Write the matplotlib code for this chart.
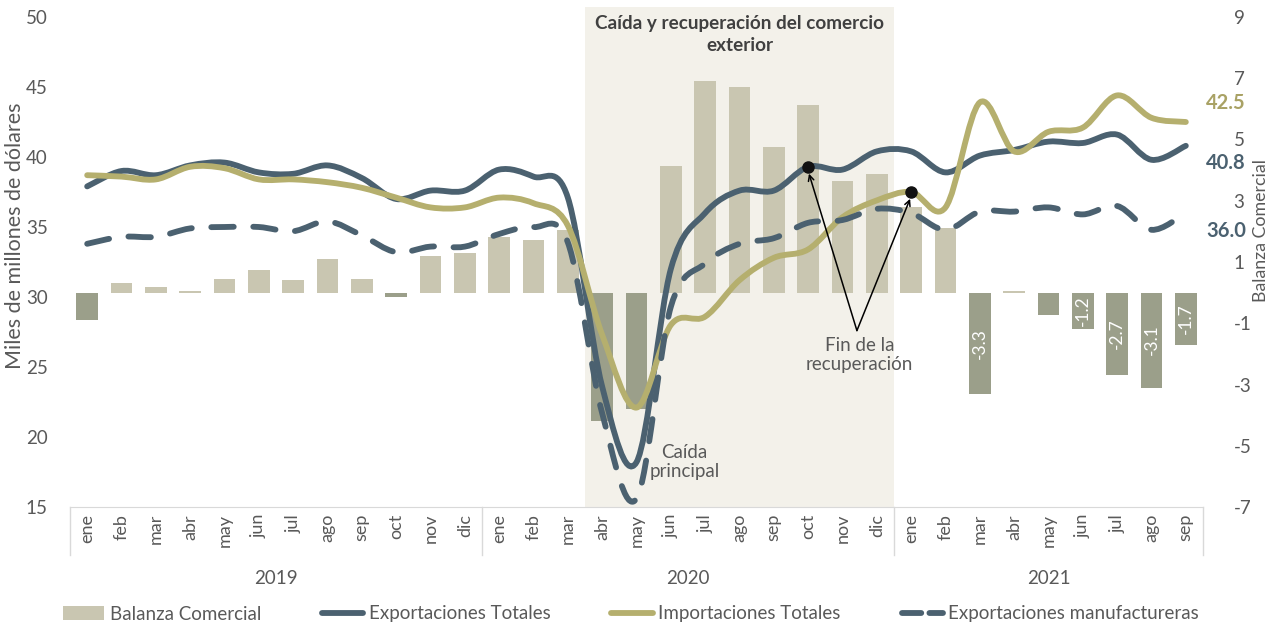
import numpy as np
import matplotlib
matplotlib.use("Agg")
import matplotlib.pyplot as plt
from matplotlib.path import Path
from matplotlib.patches import PathPatch, Rectangle, Patch
from matplotlib.lines import Line2D
import matplotlib.transforms as mtransforms

plt.rcParams['font.family'] = ['Lato', 'DejaVu Sans']
plt.rcParams['axes.unicode_minus'] = False

# ---------------------------------------------------------------- datos
meses = ['ene', 'feb', 'mar', 'abr', 'may', 'jun', 'jul', 'ago', 'sep', 'oct', 'nov', 'dic']
etiquetas_mes = meses + meses + meses[:9]
anios = ['2019', '2020', '2021']

# balanza comercial (eje derecho)
balanza = [-0.9, 0.33, 0.2, 0.05, 0.45, 0.75, 0.4, 1.1, 0.45, -0.15, 1.2, 1.3,
           1.83, 1.73, 2.05, -4.2, -3.8, 4.15, 6.9, 6.7, 4.77, 6.14, 3.63, 3.86,
           2.81, 2.1, -3.3, 0.05, -0.72, -1.2, -2.7, -3.1, -1.7]
# miles de millones de dólares (eje izquierdo)
expo_total = [37.9, 39.0, 38.7, 39.4, 39.6, 38.9, 38.8, 39.4, 38.5, 37.0, 37.6, 37.6,
              39.1, 38.6, 37.1, 23.6, 18.2, 32.0, 36.0, 37.6, 37.6, 39.3, 39.1, 40.4,
              40.4, 38.9, 40.1, 40.5, 41.1, 41.0, 41.6, 39.8, 40.8]
impo_total = [38.7, 38.6, 38.4, 39.3, 39.2, 38.4, 38.4, 38.2, 37.8, 37.1, 36.4, 36.4,
              37.1, 36.7, 35.1, 27.3, 22.1, 28.0, 28.6, 31.2, 32.8, 33.4, 35.7, 36.9,
              37.5, 36.4, 43.9, 40.4, 41.8, 42.1, 44.4, 42.8, 42.5]
expo_manuf = [33.8, 34.3, 34.3, 34.9, 35.0, 35.0, 34.7, 35.4, 34.4, 33.2, 33.6, 33.6,
              34.5, 35.0, 33.9, 21.7, 15.6, 29.3, 32.4, 33.8, 34.2, 35.3, 35.5, 36.3,
              36.0, 34.8, 36.1, 36.1, 36.4, 35.9, 36.5, 34.8, 36.0]

# colores
C_POS = '#C9C6B1'
C_NEG = '#9B9F8A'
C_SHADE = '#F3F1EA'
C_EXPO = '#4B6170'
C_IMPO = '#B5AF6E'
C_TXT = '#595959'


def smooth_path(xs, ys):
    """curva suavizada tipo Excel (Bezier cúbica por Catmull-Rom)"""
    pts = np.column_stack([xs, ys]).astype(float)
    ext = np.vstack([pts[0], pts, pts[-1]])
    verts = [pts[0]]
    codes = [Path.MOVETO]
    for i in range(len(pts) - 1):
        p0, p1, p2, p3 = ext[i], ext[i + 1], ext[i + 2], ext[i + 3]
        verts += [p1 + (p2 - p0) / 6, p2 - (p3 - p1) / 6, p2]
        codes += [Path.CURVE4] * 3
    return Path(verts, codes)


x = np.arange(len(etiquetas_mes))

fig = plt.figure(figsize=(12.67, 6.27), dpi=100)
ax = fig.add_axes([70 / 1267, 1 - 507 / 627, 1133 / 1267, 490 / 627])
ax2 = ax.twinx()
ax.set_zorder(ax2.get_zorder() + 1)
ax.patch.set_visible(False)

# ---- zona sombreada
trans = mtransforms.blended_transform_factory(ax2.transData, ax2.transAxes)
ax2.add_patch(Rectangle((14.5, 0), 9, 1 + 10 / 490, transform=trans,
                        facecolor=C_SHADE, edgecolor='none', zorder=0, clip_on=False))

# ---- barras
cols = [C_POS if v >= 0 else C_NEG for v in balanza]
ax2.bar(x, balanza, width=0.64, color=cols, zorder=2)
for i in [26, 29, 30, 31, 32]:
    ax2.text(x[i], balanza[i] / 2, f"{balanza[i]:.1f}", rotation=90, ha='center',
             va='center', color='white', fontsize=12.5, zorder=3)
ax2.set_ylim(-7, 9)
ax2.set_yticks(range(-7, 10, 2))

# ---- líneas
ax.add_patch(PathPatch(smooth_path(x, expo_total), fill=False, edgecolor=C_EXPO,
                       lw=4.2, capstyle='round', joinstyle='round', zorder=3))
ax.add_patch(PathPatch(smooth_path(x, impo_total), fill=False, edgecolor=C_IMPO,
                       lw=4.2, capstyle='round', joinstyle='round', zorder=3))
ax.add_patch(PathPatch(smooth_path(x, expo_manuf), fill=False, edgecolor=C_EXPO,
                       lw=4.2, capstyle='round', joinstyle='round',
                       linestyle=(0, (3.85, 3.35)), zorder=3))

ax.set_xlim(-0.5, len(x) - 0.5)
ax.set_ylim(15, 50)
ax.set_yticks(range(15, 51, 5))

# ---- anotaciones
ax.plot([x[21]], [expo_total[21]], 'o', color='#111111', ms=8, zorder=5)
ax.plot([x[24]], [impo_total[24]], 'o', color='#111111', ms=8, zorder=5)
for xi, yi in [(x[21], expo_total[21]), (x[24], impo_total[24])]:
    ax.annotate('', xy=(xi, yi - 0.3), xytext=(22.42, 27.6),
                arrowprops=dict(arrowstyle='->', color='black', lw=1.1,
                                shrinkA=0, shrinkB=2), zorder=6)
ax.text(22.5, 25.85, 'Fin de la\nrecuperación', ha='center', va='center',
        fontsize=13.5, color=C_TXT, linespacing=1.15, zorder=6)
ax.text(17.4, 18.2, 'Caída\nprincipal', ha='center', va='center',
        fontsize=13.5, color=C_TXT, linespacing=1.15, zorder=6)

tr_top = mtransforms.blended_transform_factory(ax.transData, ax.transAxes)
ax.text(19, (507 - 34.5) / 490, 'Caída y recuperación del comercio\nexterior',
        transform=tr_top, ha='center', va='center', fontsize=13.6, fontweight='bold',
        color='#404040', linespacing=1.3, zorder=6)

ax.text(32.6, impo_total[-1] + 1.36, f"{impo_total[-1]:.1f}", color='#A9A265',
        fontsize=14.5, fontweight='bold', va='center', ha='left')
ax.text(32.6, expo_total[-1] - 1.23, f"{expo_total[-1]:.1f}", color=C_EXPO,
        fontsize=14.5, fontweight='bold', va='center', ha='left')
ax.text(32.6, expo_manuf[-1] - 1.3, f"{expo_manuf[-1]:.1f}", color=C_EXPO,
        fontsize=14.5, fontweight='bold', va='center', ha='left')

# ---- ejes
ax.set_xticks(x)
ax.set_xticklabels(etiquetas_mes, rotation=90, fontsize=13, color=C_TXT)
ax.tick_params(axis='x', length=0, pad=5)
ax.tick_params(axis='y', length=0, labelsize=13.5, labelcolor=C_TXT, pad=16)
ax2.tick_params(axis='y', length=0, labelsize=13.5, labelcolor=C_TXT, pad=22)
for a in (ax, ax2):
    for s in ('top', 'left', 'right'):
        a.spines[s].set_visible(False)
ax2.spines['bottom'].set_visible(False)
ax.spines['bottom'].set_color('#D9D9D9')

ax.set_ylabel('Miles de millones de dólares', fontsize=15.5, color=C_TXT)
ax.yaxis.set_label_coords(-0.040, 0.553)
ax2.set_ylabel('Balanza Comercial', fontsize=12.8, color=C_TXT)
ax2.yaxis.set_label_coords(1.044, 0.565)

# separadores de años y etiquetas
for xs in [-0.5, 11.5, 23.5, len(x) - 0.5]:
    ax.plot([xs, xs], [0, -48 / 490], transform=tr_top, color='#D9D9D9',
            lw=1, clip_on=False)
for xc, lab in zip([5.5, 17.5, 28], anios):
    ax.text(xc, -(578 - 507) / 490, lab, transform=tr_top, ha='center',
            va='center', fontsize=13.5, color=C_TXT)

# ---- leyenda
handles = [Patch(facecolor=C_POS, edgecolor='none'),
           Line2D([], [], color=C_EXPO, lw=4.2, solid_capstyle='round'),
           Line2D([], [], color=C_IMPO, lw=4.2, solid_capstyle='round'),
           Line2D([], [], color=C_EXPO, lw=4.2, dash_capstyle='round',
                  linestyle=(0, (3.3, 1.4)))]
labels = ['Balanza Comercial', 'Exportaciones Totales', 'Importaciones Totales',
          'Exportaciones manufactureras']
fig.legend(handles, labels, loc='center', bbox_to_anchor=(0.498, 1 - 614 / 627),
           ncol=4, frameon=False, fontsize=13.5, handlelength=2.2,
           handletextpad=0.3, columnspacing=3.25, labelcolor=C_TXT)

fig.savefig('out.png', dpi=100)
